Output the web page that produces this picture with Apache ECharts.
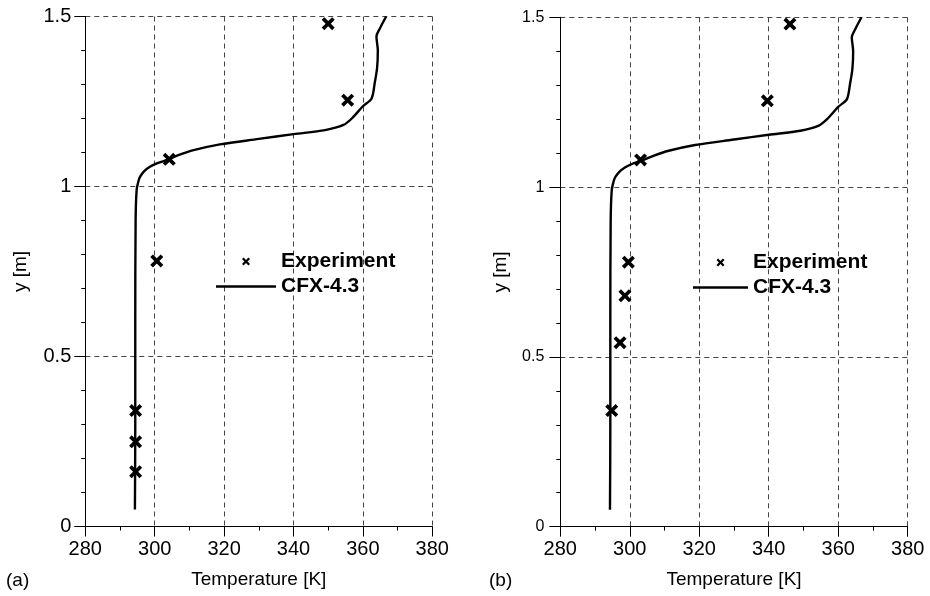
<!DOCTYPE html>
<html>
<head>
<meta charset="utf-8">
<script src="https://cdn.jsdelivr.net/npm/echarts@6/dist/echarts.min.js"></script>
<style>
  html, body { margin: 0; padding: 0; background: #fff; }
  #chart { width: 930px; height: 596px; }
</style>
</head>
<body>
<div id="chart"></div>
<script>
// Simulated temperature profile (CFX-4.3): temperature [K] against height y [m]
const cfxTemp   = [294.3, 294.4, 294.4, 294.5, 294.8, 295.3, 295.8, 297.0, 298.6, 300.6, 303.5, 307.0, 311.2, 318.8, 330.0, 340.0, 349.1, 354.4, 356.8, 360.0, 362.5, 363.4, 364.1, 364.3, 363.9, 364.9, 366.7];
const cfxHeight = [0.05,  0.30,  0.60,  0.90,  0.99,  1.015, 1.029, 1.045, 1.058, 1.068, 1.078, 1.093, 1.107, 1.124, 1.140, 1.154, 1.166, 1.181, 1.200, 1.236, 1.259, 1.304, 1.350, 1.400, 1.441, 1.465, 1.500];

// Measured temperatures, case (a)
const expTempA   = [294.5, 294.5, 294.5, 300.6, 304.2, 355.6, 350.0];
const expHeightA = [0.161, 0.249, 0.341, 0.781, 1.080, 1.254, 1.479];

// Measured temperatures, case (b)
const expTempB   = [294.8, 297.2, 298.6, 299.6, 303.1, 339.6, 346.1];
const expHeightB = [0.342, 0.542, 0.680, 0.779, 1.080, 1.254, 1.480];

const seriesNames = ['Experiment', 'CFX-4.3'];
const panelTags = ['(a)', '(b)'];
const xTitle = 'Temperature [K]';
const yTitle = 'y [m]';

const FONT = '"Liberation Sans", Arial, Helvetica, sans-serif';
const crossPath = 'path://M0,2L2,0L5,3L8,0L10,2L7,5L10,8L8,10L5,7L2,10L0,8L3,5Z';

function pairs(xs, ys) { return xs.map((x, i) => [x, ys[i]]); }

const gridLine = { show: true, lineStyle: { color: '#444', width: 1, type: [5, 4] } };

function xAxisFor(gi) {
  return {
    type: 'value', gridIndex: gi, min: 280, max: 380, interval: 20,
    name: xTitle, nameLocation: 'middle', nameGap: 44,
    nameTextStyle: { fontFamily: FONT, fontSize: 19, color: '#000' },
    axisLine: { show: true, onZero: false, lineStyle: { color: '#000', width: 1 } },
    axisTick: { show: true, inside: false, length: 10, lineStyle: { color: '#000' } },
    minorTick: { show: true, splitNumber: 2, length: 4, lineStyle: { color: '#000' } },
    axisLabel: { fontFamily: FONT, fontSize: 20, color: '#000', margin: 13 },
    splitLine: gridLine
  };
}

function yAxisFor(gi, labelSize, labelMargin, nameGap) {
  return {
    type: 'value', gridIndex: gi, min: 0, max: 1.5, interval: 0.5,
    name: yTitle, nameLocation: 'middle', nameGap: nameGap, nameRotate: 90,
    nameTextStyle: { fontFamily: FONT, fontSize: 19, color: '#000' },
    axisLine: { show: true, onZero: false, lineStyle: { color: '#000', width: 1 } },
    axisTick: { show: true, inside: false, length: 11, lineStyle: { color: '#000' } },
    minorTick: { show: true, splitNumber: 5, length: 4, lineStyle: { color: '#000' } },
    axisLabel: { fontFamily: FONT, fontSize: labelSize, color: '#000', margin: labelMargin },
    splitLine: gridLine
  };
}

function seriesFor(gi, temps, heights) {
  return [
    {
      name: seriesNames[0], type: 'scatter', xAxisIndex: gi, yAxisIndex: gi,
      data: pairs(temps, heights), symbol: crossPath, symbolSize: 13,
      itemStyle: { color: '#000', opacity: 1 }, z: 4
    },
    {
      name: seriesNames[1], type: 'line', xAxisIndex: gi, yAxisIndex: gi,
      data: pairs(cfxTemp, cfxHeight), symbol: 'none', smooth: 0.3,
      lineStyle: { color: '#000', width: 2.4 }, itemStyle: { color: '#000' }, z: 3
    }
  ];
}

function legendFor(left, top, width) {
  return {
    left: left, top: top, orient: 'vertical', itemGap: 4,
    itemWidth: width, itemHeight: 8, selectedMode: false,
    textStyle: { fontFamily: FONT, fontSize: 21, fontWeight: 'bold', color: '#000' },
    data: [
      { name: seriesNames[0], icon: crossPath, itemStyle: { color: '#000', opacity: 1 } },
      { name: seriesNames[1], icon: 'path://M0,0H' + width + 'V2.4H0Z', itemStyle: { color: '#000' } }
    ]
  };
}

const chart = echarts.init(document.getElementById('chart'), null, { renderer: 'canvas' });
chart.setOption({
  animation: false,
  backgroundColor: '#fff',
  grid: [
    { left: 85.3, top: 16.5, width: 347, height: 510, containLabel: false },
    { left: 560.3, top: 17.3, width: 347.4, height: 509.4, containLabel: false }
  ],
  xAxis: [xAxisFor(0), xAxisFor(1)],
  yAxis: [yAxisFor(0, 20, 14, 55), yAxisFor(1, 16, 16, 50)],
  legend: [legendFor(211, 246, 60), legendFor(688, 247, 55)],
  series: [].concat(seriesFor(0, expTempA, expHeightA), seriesFor(1, expTempB, expHeightB)),
  graphic: [
    { type: 'text', left: 6, top: 571, style: { text: panelTags[0], font: '19px ' + FONT, fill: '#000' } },
    { type: 'text', left: 489, top: 571, style: { text: panelTags[1], font: '19px ' + FONT, fill: '#000' } }
  ]
});
</script>
</body>
</html>
